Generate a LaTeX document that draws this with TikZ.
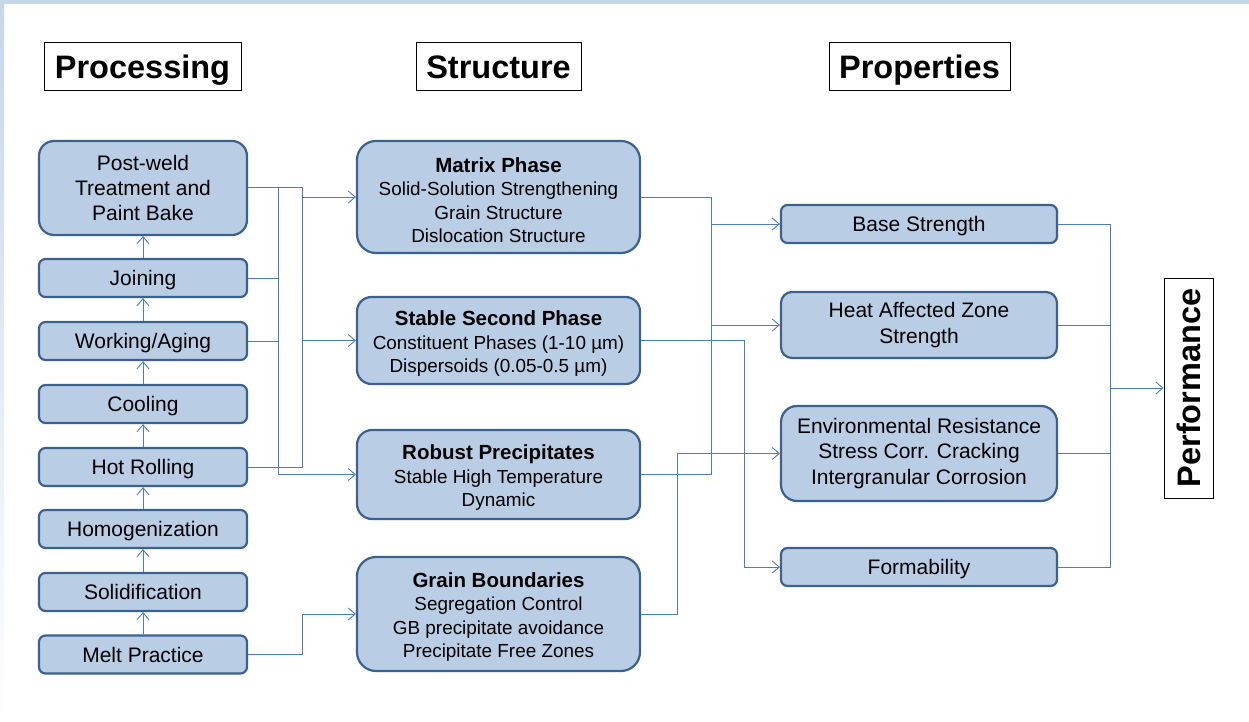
\documentclass[tikz,border=0pt]{standalone}
\usepackage{fontspec}
\setmainfont{Liberation Sans}
\usetikzlibrary{arrows.meta}
\definecolor{boxfill}{RGB}{185,205,229}
\definecolor{boxline}{RGB}{59,98,143}
\definecolor{conncol}{RGB}{74,126,187}
\definecolor{bandcol}{RGB}{196,214,234}
\tikzset{
  pbox/.style={draw=boxline, fill=boxfill, line width=2.2pt, align=center, inner sep=0pt, text=black},
  sbox/.style={pbox, rounded corners=6.5pt, minimum width=208pt, minimum height=38pt, font=\fontsize{21}{25}\selectfont},
  one/.style={text height=15pt, text depth=0pt},
  hdr/.style={draw=black, fill=white, line width=1pt, inner sep=0pt, minimum height=48pt, text height=23.4pt, text depth=0pt, font=\fontsize{32.5}{36}\selectfont\bfseries},
  conn/.style={draw=conncol, line width=1pt},
  arr/.style={conn, -{Straight Barb[length=7pt,width=12pt,line width=0.9pt]}},
  bbox/.style={pbox, minimum width=283pt, font=\fontsize{18.9}{23.4}\selectfont},
  rbox/.style={pbox, minimum width=276pt, font=\fontsize{21}{25.3}\selectfont},
}
\newcommand{\ttl}[1]{\rule{0pt}{21pt}\textbf{\fontsize{20.5}{23.4}\selectfont #1}}
\begin{document}
\begin{tikzpicture}[x=1pt,y=-1pt]
\useasboundingbox (0,0) rectangle (1249,722);
\fill[white] (0,0) rectangle (1249,722);
\shade[top color=bandcol, bottom color=white] (0,0) rectangle (4,722);
\fill[bandcol] (0,0) rectangle (1249,4.5);

% headers
\node[hdr, minimum width=197pt] (hproc) at (142.5,67) {Processing};
\node[hdr, minimum width=165pt] (hstruct) at (498.5,67) {Structure};
\node[hdr, minimum width=181pt] (hprop) at (919.5,67) {Properties};
\node[hdr, minimum width=220pt, minimum height=49pt, rotate=90] (perf) at (1188.5,388) {Performance};

% processing column
\node[sbox, minimum height=94pt, rounded corners=15pt] (pw) at (143,188) {Post-weld\\Treatment and\\Paint Bake};
\node[sbox, one] (join) at (143,278) {Joining};
\node[sbox, one] (work) at (143,341) {Working/Aging};
\node[sbox, one] (cool) at (143,404) {Cooling};
\node[sbox, one] (hot) at (143,467) {Hot Rolling};
\node[sbox, one] (homo) at (143,529) {Homogenization};
\node[sbox, one] (solid) at (143,592) {Solidification};
\node[sbox, one] (melt) at (143,654.5) {Melt Practice};

\foreach \a/\b in {melt/solid, solid/homo, homo/hot, hot/cool, cool/work, work/join, join/pw}
  \draw[arr] (\a.north) -- (\b.south);

% structure column
\node[bbox, minimum height=112pt, rounded corners=19pt] (matrix) at (498.5,197) {\ttl{Matrix Phase}\\Solid-Solution Strengthening\\Grain Structure\\Dislocation Structure};
\node[bbox, minimum height=87pt, rounded corners=14.5pt] (stable) at (498.5,340.5) {\ttl{Stable Second Phase}\\Constituent Phases (1-10 µm)\\Dispersoids (0.05-0.5 µm)};
\node[bbox, minimum height=89pt, rounded corners=15pt] (robust) at (498.5,474.5) {\ttl{Robust Precipitates}\\Stable High Temperature\\Dynamic};
\node[bbox, minimum height=114pt, rounded corners=19pt] (gb) at (498.5,614) {\ttl{Grain Boundaries}\\Segregation Control\\GB precipitate avoidance\\Precipitate Free Zones};

% properties column
\node[rbox, one, minimum height=38pt, rounded corners=6.5pt] (base) at (919,224) {Base Strength};
\node[rbox, minimum height=66pt, rounded corners=11pt] (haz) at (919,325) {Heat Affected Zone\\Strength};
\node[rbox, minimum height=95pt, rounded corners=16pt] (env) at (919,453.5) {Environmental Resistance\\Stress Corr. Cracking\\Intergranular Corrosion};
\node[rbox, one, minimum height=38pt, rounded corners=6.5pt] (form) at (919,567) {Formability};

% bus coordinates
\coordinate (bA) at (278,0);
\coordinate (bB) at (302,0);
\coordinate (bE) at (677,0);
\coordinate (bC) at (711,0);
\coordinate (bD) at (744,0);
\coordinate (bF) at (1110,0);

% processing -> structure
\draw[conn] (pw.east) -- (pw.east -| bB) -- (hot.east -| bB) -- (hot.east);
\draw[arr] (pw.east -| bA) -- (robust.west -| bA) -- (robust.west);
\draw[conn] (join.east) -- (join.east -| bA);
\draw[conn] (work.east) -- (work.east -| bA);
\draw[arr] (matrix.west -| bB) -- (matrix.west);
\draw[arr] (stable.west -| bB) -- (stable.west);
\draw[arr] (melt.east) -- (melt.east -| bB) -- (gb.west -| bB) -- (gb.west);

% structure -> properties
\draw[conn] (matrix.east) -- (matrix.east -| bC) -- (robust.east -| bC) -- (robust.east);
\draw[arr] (base.west -| bC) -- (base.west);
\draw[arr] (haz.west -| bC) -- (haz.west);
\draw[arr] (stable.east) -- (stable.east -| bD) -- (form.west -| bD) -- (form.west);
\draw[arr] (gb.east) -- (gb.east -| bE) -- (env.west -| bE) -- (env.west);

% properties -> performance
\draw[conn] (base.east) -- (base.east -| bF) -- (form.east -| bF) -- (form.east);
\draw[conn] (haz.east) -- (haz.east -| bF);
\draw[conn] (env.east) -- (env.east -| bF);
\draw[arr] (perf.north -| bF) -- (perf.north);
\end{tikzpicture}
\end{document}
